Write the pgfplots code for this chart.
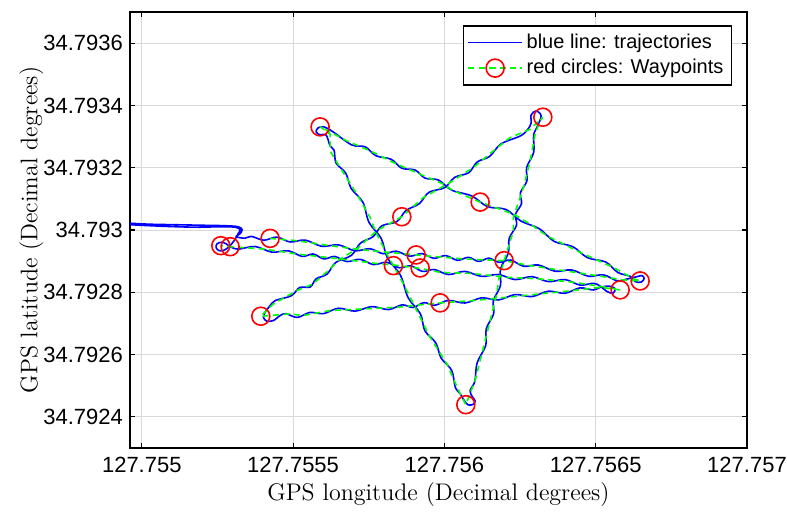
\documentclass[border=0pt]{standalone}
\usepackage{pgfplots}
\pgfplotsset{compat=1.18}
\usepackage{fontspec}
\newfontfamily\arial{Liberation Sans}

% coordinates in 1e-6 degrees: x = lon - 127.755, y = lat - 34.792
\begin{document}
\begin{tikzpicture}
\begin{axis}[
    at={(0,0)}, anchor=south west,
    scale only axis,
    width=308.5pt, height=218pt,
    xmin=-39, xmax=2000, ymin=300, ymax=1700,
    xtick={0,500,1000,1500,2000},
    xticklabels={127.755,127.7555,127.756,127.7565,127.757},
    ytick={400,600,800,1000,1200,1400,1600},
    yticklabels={34.7924,34.7926,34.7928,34.793,34.7932,34.7934,34.7936},
    grid=major,
    major grid style={black!15, line width=0.5pt},
    tick align=inside,
    major tick length=2.5pt,
    tick style={black, line width=0.6pt},
    axis line style={line width=0.8pt},
    ticklabel style={font=\arial\fontsize{11}{13}\selectfont},
    xticklabel style={yshift=-1pt},
    label style={font=\fontsize{12}{14}\selectfont},
    xlabel={GPS longitude (Decimal degrees)},
    ylabel={GPS latitude (Decimal degrees)},
    xlabel style={at={(axis description cs:0.5,-0.106)}, anchor=center},
    ylabel style={at={(axis description cs:-0.16,0.5)}, anchor=center, rotate=0},
    legend style={at={(rel axis cs:0.976,0.97)}, anchor=north east,
        font=\arial\fontsize{10}{12}\selectfont, draw=black, line width=0.8pt,
        row sep=0pt, inner sep=2pt},
    legend cell align=left,
    legend image code/.code={\draw[mark repeat=2,mark phase=2]
        plot coordinates {(0cm,0cm) (0.47cm,0cm) (0.94cm,0cm)};},
]
% flown trajectory
\addplot[blue, line width=0.8pt, line join=round, smooth, tension=0.55]
coordinates {
(-38.7,1021.8) (27.4,1018.6) (110.1,1017.0) (192.7,1015.4) (275.3,1013.8) (318.3,1010.6)
(331.5,1001.0) (324.9,988.1) (311.7,978.5) (341.4,973.7)
(362.1,979.6) (403.4,967.2) (446.1,977.3) (490.2,961.6) (539.8,967.7) (594.8,947.7)
(649.8,952.2) (704.9,933.3) (754.2,939.9) (797.7,923.9) (841.3,931.9) (884.8,915.9)
(926.1,924.3) (965.3,909.1) (1004.3,917.9) (1043.4,902.7) (1079.7,912.4) (1113.4,899.1)
(1147.0,909.7) (1180.6,896.3) (1218.9,903.6) (1261.8,883.6) (1310.8,887.6) (1365.9,867.6)
(1421.0,871.6) (1476.2,851.5) (1525.5,856.1) (1569.0,837.2) (1590.7,839.8)
(1637.0,850.3) (1653.5,853.5) (1660.1,843.9) (1650.2,832.7) (1630.3,834.3)
(1615.2,850.8) (1572.9,863.7) (1533.4,897.1) (1472.9,911.2) (1424.1,946.6) (1363.0,963.3)
(1313.9,1004.1) (1252.7,1028.9) (1203.6,1065.9) (1142.6,1075.1) (1090.8,1109.1) (1024.1,1128.0)
(980.6,1160.4) (936.1,1166.5) (903.6,1192.5) (859.1,1198.5) (823.8,1227.2) (773.7,1238.5)
(738.3,1267.2) (693.8,1273.2) (632.2,1315.1)
(602.5,1331.1) (582.7,1327.9) (576.1,1315.1) (589.3,1305.4) (609.1,1305.4) (622.3,1270.2)
(635.6,1255.8) (642.1,1215.0) (674.2,1182.3) (691.8,1133.7) (730.7,1089.0) (751.0,1024.2)
(791.2,972.8) (811.4,910.7) (854.5,855.2) (880.4,782.3) (920.7,730.9) (935.4,676.8)
(971.6,637.5) (989.2,588.8) (1024.0,549.5) (1036.0,495.4) (1052.0,474.4)
(1065.2,452.9) (1078.4,438.5) (1094.9,440.1) (1101.5,451.3) (1091.6,465.7) (1085.0,484.9)
(1100.7,514.3) (1108.0,573.2) (1136.6,629.3) (1138.3,682.6) (1162.7,730.7) (1161.8,773.5)
(1185.3,821.6) (1185.4,874.9) (1211.1,925.7) (1214.4,973.7) (1238.3,1015.2) (1234.6,1049.9)
(1254.8,1084.5) (1251.1,1119.2) (1272.7,1157.9) (1271.8,1200.7) (1295.1,1249.4) (1294.7,1303.9)
(1306.5,1331.1)
(1319.7,1366.3) (1303.2,1382.4) (1286.6,1369.5) (1286.6,1343.9) (1276.7,1324.7)
(1252.0,1302.6) (1186.7,1276.3) (1149.5,1236.3) (1108.4,1218.5) (1080.7,1184.1) (1034.2,1169.1)
(1000.9,1136.1) (948.8,1121.0) (916.9,1084.5) (873.2,1062.6) (842.7,1026.9) (793.4,1013.5)
(764.2,978.6) (723.1,958.3) (692.5,918.6) (640.4,895.5) (612.3,858.5) (576.2,843.4)
(556.7,817.0) (521.8,815.4) (494.2,789.0) (442.1,773.9) (424.0,757.4)
(407.5,735.9) (401.9,719.9) (413.1,707.1) (434.9,709.3) (457.1,725.3)
(476.1,731.3) (514.1,719.3) (555.4,735.3) (600.0,731.4) (649.8,748.8) (704.9,739.5)
(760.0,754.1) (815.2,744.6) (860.7,759.7) (896.5,751.2) (932.3,766.8) (968.0,758.3)
(1013.2,773.9) (1067.7,765.6) (1122.8,782.1) (1178.5,775.4) (1233.8,792.7) (1288.9,786.2)
(1343.7,803.6) (1398.2,796.9) (1447.7,814.1) (1492.4,807.4) (1514.7,816.0)
(1544.4,819.9) (1564.2,811.9) (1557.6,797.4) (1537.8,802.2) (1514.7,819.9)
(1492.6,828.9) (1448.5,823.1) (1398.9,840.8) (1343.9,834.3) (1288.9,850.3) (1233.8,840.8)
(1178.5,857.1) (1122.8,851.1) (1067.7,867.1) (1013.2,857.1) (966.6,873.1) (928.0,867.0)
(889.4,885.0) (850.8,878.9) (809.5,896.2) (765.5,889.1) (721.5,905.9) (677.4,898.7)
(637.5,915.1) (601.8,907.1) (566.0,923.1) (530.2,915.1) (484.7,933.1) (429.5,929.1)
(374.4,947.0) (319.3,938.7) (291.8,946.5)
(278.6,956.1) (265.4,960.9) (248.9,956.1) (245.6,943.3) (255.5,933.7) (272.0,935.3) (288.5,946.5)
(305.1,965.7) (318.3,988.1) (324.9,1001.0) (308.4,1009.0) (258.8,1010.6) (192.7,1009.0)
(110.1,1010.6) (27.4,1013.8) (-38.7,1017.0)
};
\addlegendentry{blue line: trajectories}
% planned path through the waypoints
\addplot[green, line width=0.8pt, dash pattern=on 3pt off 2.2pt, forget plot]
coordinates {
(424.0,973.1) (512.3,965.7) (622.3,949.7) (732.4,935.9) (906.6,919.9) (1062.9,907.1)
(1197.4,901.6) (1283.3,885.6) (1393.4,869.6) (1503.8,853.5) (1590.7,839.8) (1646.9,836.5)
(1623.8,843.9) (1557.7,880.1) (1448.6,928.2) (1338.5,981.7) (1283.3,1019.2) (1228.1,1051.3)
(1118.1,1089.7) (1029.8,1126.0) (996.8,1147.4) (919.8,1179.5) (842.8,1211.5) (754.6,1254.2)
(677.5,1286.2) (589.3,1332.0)
(622.3,1307.7) (622.3,1254.2) (655.4,1200.6) (710.6,1115.4) (754.6,1040.4) (771.1,997.8)
(809.7,923.1) (831.5,885.6) (864.6,826.9) (903.3,751.9) (952.8,655.8) (1008.0,570.5)
(1052.0,474.4) (1070.8,439.1)
(1101.6,517.0) (1123.7,602.6) (1151.1,709.3) (1173.3,794.9) (1178.6,837.5) (1197.4,901.6)
(1228.1,997.8) (1228.1,1040.4) (1261.2,1136.5) (1283.3,1222.1) (1299.9,1307.7) (1316.4,1350.3)
(1325.3,1362.2)
(1283.3,1323.7) (1217.2,1296.8) (1162.0,1254.2) (1095.9,1200.6) (1018.9,1152.6) (930.7,1104.5)
(859.3,1042.6) (776.7,997.8) (710.6,939.1) (655.4,907.1) (622.3,875.0) (566.2,826.9)
(512.3,805.5) (434.9,762.8) (393.3,723.1)
(490.1,730.8) (533.1,725.3) (622.3,741.4) (732.4,746.8) (842.8,751.9) (897.6,757.4)
(985.9,766.0) (1095.0,773.4) (1206.3,784.0) (1316.4,794.9) (1425.4,805.5) (1514.7,816.0)
(1580.8,807.7)
(1536.8,816.0) (1426.4,832.1) (1316.4,843.0) (1206.3,848.1) (1095.0,860.1) (985.9,864.1)
(919.8,876.9) (831.5,887.8) (787.6,891.0) (655.4,907.1) (512.3,923.1) (401.9,939.1)
(291.8,946.5) (261.1,949.7)
};
% waypoints
\addplot[only marks, mark=o, mark size=4.5pt, red, line width=0.8pt, forget plot]
coordinates {
(261.1,949.7) (291.8,946.5) (424.0,973.1) (906.6,919.9) (1197.4,901.6) (1646.9,836.5)
(1118.1,1089.7) (589.3,1331.1) (859.3,1042.6) (831.5,885.6) (919.8,878.2) (985.9,766.0)
(393.3,723.1) (1070.8,439.1) (1325.3,1362.2) (1580.8,807.7)
};
\addlegendimage{green, line width=0.8pt, dash pattern=on 3pt off 2.2pt,
    mark=o, mark size=4.5pt, mark options={red, solid, line width=0.8pt}}
\addlegendentry{red circles: Waypoints}
\end{axis}
\pgfresetboundingbox
\path[use as bounding box] (-65pt,-31.5pt) rectangle (328.5pt,224pt);
\end{tikzpicture}
\end{document}
